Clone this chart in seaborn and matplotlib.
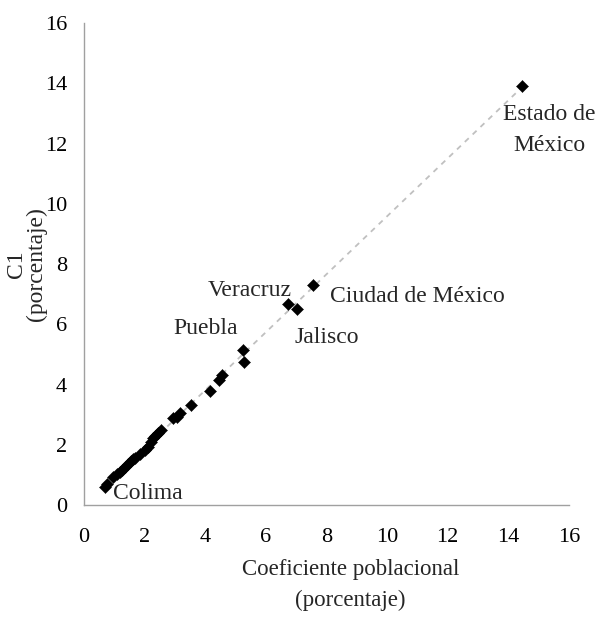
import matplotlib
matplotlib.use("Agg")
import matplotlib.pyplot as plt
import seaborn as sns
import pandas as pd

# coeficiente poblacional (%) vs C1 (%) por entidad
coef_pob = [14.46, 7.56, 6.73, 7.03, 5.25, 5.28, 4.55, 4.46, 4.16, 3.55,
            3.17, 3.06, 2.95, 2.56, 2.45, 2.36, 2.30, 2.12, 2.01, 1.85,
            1.68, 1.57, 1.46, 1.35, 1.19, 1.08, 0.75, 0.69, 1.25, 1.62,
            2.22, 0.98]
c1 = [13.92, 7.31, 6.68, 6.51, 5.15, 4.75, 4.32, 4.15, 3.79, 3.32,
      3.06, 2.93, 2.88, 2.49, 2.40, 2.30, 2.22, 1.95, 1.85, 1.70,
      1.56, 1.47, 1.37, 1.27, 1.12, 1.03, 0.72, 0.61, 1.18, 1.52,
      2.10, 0.95]

x_ticks = [0, 2, 4, 6, 8, 10, 12, 14, 16]
y_ticks = [0, 2, 4, 6, 8, 10, 12, 14, 16]

df = pd.DataFrame({"coef": coef_pob, "c1": c1})

sns.set_style("white")
plt.rcParams["font.family"] = ["Liberation Serif", "DejaVu Serif"]

fig = plt.figure(figsize=(6.07, 6.20), dpi=100)
ax = fig.add_axes([0.138, 0.185, 0.799, 0.778])

# linea de tendencia
sns.regplot(data=df, x="coef", y="c1", scatter=False, ci=None, truncate=True,
            ax=ax, line_kws=dict(color="#c0c0c0", lw=1.3, ls=(0, (3, 3)), zorder=1))
sns.scatterplot(data=df, x="coef", y="c1", marker="D", s=38, color="black",
                edgecolor="black", linewidth=0.3, ax=ax, zorder=3)

# etiquetas de entidades (posicion del texto en datos)
labels = [
    ("Estado de\nMéxico", 15.35, 12.45, "center"),
    ("Ciudad de México", 8.12, 6.91, "left"),
    ("Veracruz", 6.86, 7.14, "right"),
    ("Jalisco", 6.96, 5.55, "left"),
    ("Puebla", 5.08, 5.88, "right"),
    ("Colima", 0.96, 0.40, "left"),
]
for txt, tx, ty, ha in labels:
    ax.text(tx, ty, txt, ha=ha, va="center", fontsize=17,
            linespacing=1.6, zorder=4)

ax.set_xlim(0, 16)
ax.set_ylim(0, 16)
ax.set_xticks(x_ticks)
ax.set_yticks(y_ticks)

for side in ["top", "right"]:
    ax.spines[side].set_visible(False)
for side in ["left", "bottom"]:
    ax.spines[side].set_color("#a0a0a0")
    ax.spines[side].set_linewidth(1.0)

ax.tick_params(axis="both", direction="out", length=6, width=1.0,
               color="#a0a0a0", labelsize=16, labelcolor="black")
ax.tick_params(axis="x", pad=10)
ax.tick_params(axis="y", pad=6)

ax.set_xlabel("Coeficiente poblacional\n(porcentaje)", fontsize=16.5,
              linespacing=1.6)
ax.xaxis.set_label_coords(0.55, -0.112)
ax.xaxis.label.set_va("top")
ax.set_ylabel("C1\n(porcentaje)", fontsize=17, linespacing=0.92)
ax.yaxis.set_label_coords(-0.075, 0.5)

fig.savefig("out.png", dpi=100)
